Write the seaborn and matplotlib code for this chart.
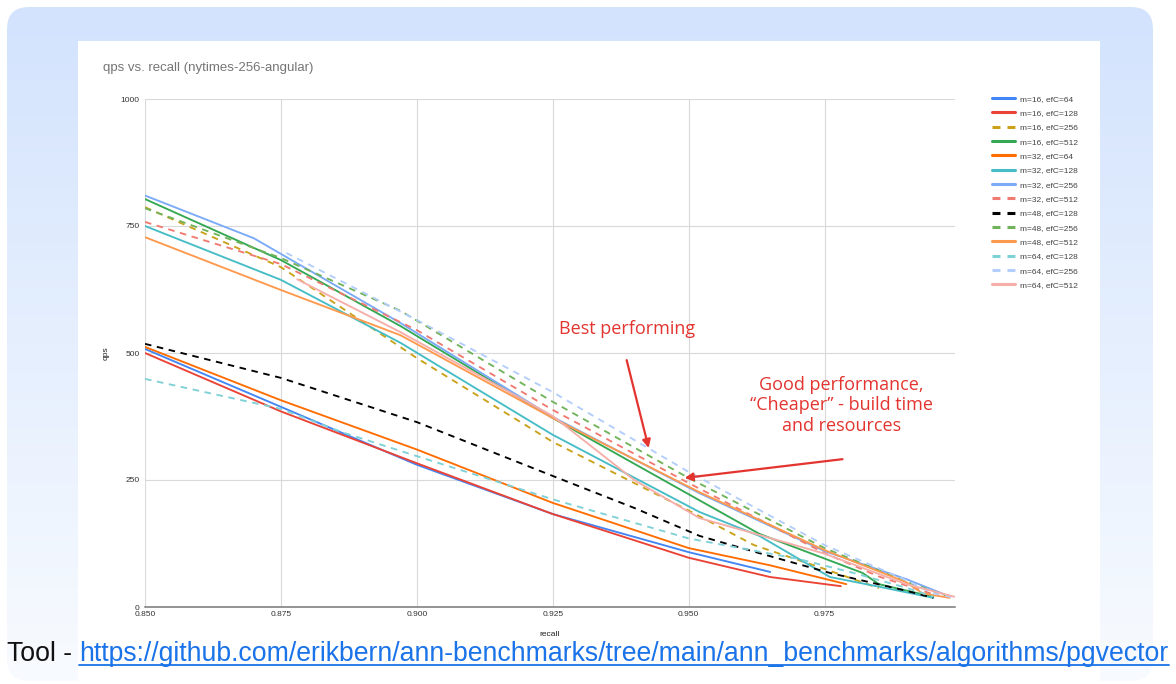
import numpy as np
import pandas as pd
import matplotlib
matplotlib.use("Agg")
import matplotlib.pyplot as plt
import matplotlib.colors as mcolors
from matplotlib.patches import FancyBboxPatch, Rectangle
from matplotlib.lines import Line2D
import seaborn as sns

# ---- benchmark results: recall vs queries per second, one array pair per build config ----
labels = [
    "m=16, efC=64", "m=16, efC=128", "m=16, efC=256", "m=16, efC=512",
    "m=32, efC=64", "m=32, efC=128", "m=32, efC=256", "m=32, efC=512",
    "m=48, efC=128", "m=48, efC=256", "m=48, efC=512",
    "m=64, efC=128", "m=64, efC=256", "m=64, efC=512",
]

recall_m16_ef64 = [0.850, 0.875, 0.900, 0.925, 0.950, 0.965]
qps_m16_ef64 = [508, 394, 280, 183, 108, 69]

recall_m16_ef128 = [0.850, 0.875, 0.900, 0.925, 0.950, 0.965, 0.978]
qps_m16_ef128 = [500, 385, 283, 183, 97, 59, 41]

recall_m16_ef256 = [0.850, 0.875, 0.900, 0.925, 0.950, 0.962, 0.975, 0.985]
qps_m16_ef256 = [787, 669, 490, 325, 190, 122, 75, 37]

recall_m16_ef512 = [0.850, 0.875, 0.897, 0.925, 0.952, 0.963, 0.982, 0.985, 0.995]
qps_m16_ef512 = [803, 683, 553, 372, 210, 144, 67, 45, 20]

recall_m32_ef64 = [0.850, 0.875, 0.900, 0.925, 0.950, 0.965, 0.979]
qps_m32_ef64 = [512, 407, 310, 205, 116, 82, 45]

recall_m32_ef128 = [0.850, 0.875, 0.897, 0.925, 0.952, 0.963, 0.976, 0.985, 0.995]
qps_m32_ef128 = [750, 644, 520, 339, 187, 140, 59, 40, 18]

recall_m32_ef256 = [0.850, 0.870, 0.897, 0.925, 0.952, 0.975, 0.990, 0.997]
qps_m32_ef256 = [810, 726, 559, 374, 224, 110, 55, 25]

recall_m32_ef512 = [0.850, 0.875, 0.900, 0.925, 0.950, 0.975, 0.985, 0.995]
qps_m32_ef512 = [758, 675, 545, 388, 244, 106, 60, 25]

recall_m48_ef128 = [0.850, 0.875, 0.900, 0.925, 0.940, 0.952, 0.963, 0.976, 0.990, 0.995]
qps_m48_ef128 = [518, 451, 364, 258, 195, 140, 106, 67, 32, 18]

recall_m48_ef256 = [0.850, 0.875, 0.897, 0.925, 0.950, 0.975, 0.990, 0.998]
qps_m48_ef256 = [785, 687, 583, 404, 254, 116, 50, 20]

recall_m48_ef512 = [0.850, 0.875, 0.897, 0.925, 0.952, 0.975, 0.990, 0.993, 0.998]
qps_m48_ef512 = [728, 624, 535, 372, 226, 112, 49, 27, 18]

recall_m64_ef128 = [0.850, 0.875, 0.886, 0.900, 0.925, 0.950, 0.970, 0.980, 0.990, 0.995]
qps_m64_ef128 = [449, 390, 345, 297, 212, 135, 95, 68, 38, 20]

recall_m64_ef256 = [0.876, 0.900, 0.925, 0.950, 0.975, 0.990, 0.995, 0.999]
qps_m64_ef256 = [697, 565, 423, 266, 122, 53, 27, 18]

recall_m64_ef512 = [0.878, 0.897, 0.925, 0.940, 0.952, 0.961, 0.975, 0.990, 0.999]
qps_m64_ef512 = [645, 541, 376, 250, 175, 148, 105, 45, 20]

series = [
    (recall_m16_ef64, qps_m16_ef64), (recall_m16_ef128, qps_m16_ef128),
    (recall_m16_ef256, qps_m16_ef256), (recall_m16_ef512, qps_m16_ef512),
    (recall_m32_ef64, qps_m32_ef64), (recall_m32_ef128, qps_m32_ef128),
    (recall_m32_ef256, qps_m32_ef256), (recall_m32_ef512, qps_m32_ef512),
    (recall_m48_ef128, qps_m48_ef128), (recall_m48_ef256, qps_m48_ef256),
    (recall_m48_ef512, qps_m48_ef512), (recall_m64_ef128, qps_m64_ef128),
    (recall_m64_ef256, qps_m64_ef256), (recall_m64_ef512, qps_m64_ef512),
]

colors = [
    "#4285F4", "#EA4335", "#C9A21A", "#34A853",
    "#FF6D01", "#46BDC6", "#7BAAF7", "#F07B72",
    "#000000", "#71B35A", "#FF994D",
    "#7ED1D7", "#B3CEFB", "#F6AEA9",
]
dashed = [False, False, True, False,
          False, False, False, True,
          True, True, False,
          True, True, False]

x_ticks = [0.850, 0.875, 0.900, 0.925, 0.950, 0.975]
y_ticks = [0, 250, 500, 750, 1000]

rows = []
for lab, (rx, qy) in zip(labels, series):
    for a, b in zip(rx, qy):
        rows.append((lab, a, b))
df = pd.DataFrame(rows, columns=["config", "recall", "qps"])

sns.set_theme(style="white")
plt.rcParams["font.family"] = ["Liberation Sans", "DejaVu Sans"]

W, H = 1176, 684
fig = plt.figure(figsize=(W / 100, H / 100), dpi=100)
fig.patch.set_facecolor("white")

# ---- card background: rounded box with a soft blue vertical gradient, white panel on it ----
bg = fig.add_axes([0, 0, 1, 1], zorder=-10)
bg.set_xlim(0, W)
bg.set_ylim(H, 0)
bg.axis("off")
t = np.linspace(0, 1, 256)[:, None, None]
c0 = np.array(mcolors.to_rgb("#D3E3FD"))[None, None, :]
c1 = np.array(mcolors.to_rgb("#F8FBFF"))[None, None, :]
grad = c0 * (1 - t) + c1 * t
grad = np.repeat(grad, 2, axis=1)
im = bg.imshow(grad, extent=(7, 1153, 681, 7), aspect="auto", interpolation="bilinear")
card = FancyBboxPatch((7, 7), 1146, 674, boxstyle="round,pad=0,rounding_size=22",
                      facecolor="none", edgecolor="none", transform=bg.transData)
bg.add_patch(card)
im.set_clip_path(card)
bg.add_patch(Rectangle((78, 41), 1100 - 78, 681 - 41, facecolor="white", edgecolor="none"))
bg.set_xlim(0, W)
bg.set_ylim(H, 0)

# ---- chart ----
ax = fig.add_axes([145 / W, 1 - 607 / H, 810 / W, 508 / H])
ax.set_facecolor("none")

palette = dict(zip(labels, colors))
dash_map = {lab: ((3.5, 3.0) if d else "") for lab, d in zip(labels, dashed)}
sns.lineplot(data=df, x="recall", y="qps", hue="config", style="config",
             hue_order=labels, style_order=labels, palette=palette, dashes=dash_map,
             sort=False, estimator=None, legend=False, lw=1.35, ax=ax)

ax.set_xlim(0.85, 0.999)
ax.set_ylim(0, 1000)
ax.set_xticks(x_ticks)
ax.set_xticklabels([f"{v:.3f}" for v in x_ticks])
ax.set_yticks(y_ticks)
ax.set_yticklabels([str(v) for v in y_ticks])
ax.grid(True, color="#D9D9D9", lw=0.8)
ax.set_axisbelow(True)
for s in ["top", "right", "left"]:
    ax.spines[s].set_visible(False)
ax.spines["bottom"].set_color("#777777")
ax.spines["bottom"].set_linewidth(1.1)
ax.tick_params(axis="both", length=0, labelsize=6, labelcolor="#333333")
ax.tick_params(axis="x", pad=3)
ax.tick_params(axis="y", pad=4)
ax.set_xlabel("recall", fontsize=6, color="#222222", labelpad=9)
ax.set_ylabel("qps", fontsize=6, color="#222222", labelpad=8)

fig.text(103 / W, 1 - 68 / H, "qps vs. recall (nytimes-256-angular)",
         fontsize=9.5, color="#757575", ha="left", va="center")

# legend with custom handles
handles = []
for c, d in zip(colors, dashed):
    if d:
        handles.append(Line2D([0], [0], color=c, lw=2.2, dashes=(2.6, 2.3)))
    else:
        handles.append(Line2D([0], [0], color=c, lw=2.2))
fig.legend(handles, labels, loc="upper left", bbox_to_anchor=(992 / W, 1 - 95 / H),
           frameon=False, fontsize=6, handlelength=2.75, handletextpad=0.55,
           labelspacing=0.78, borderaxespad=0, borderpad=0, labelcolor="#444444")

# ---- annotations ----
red = "#E3342F"
note_font = ["Open Sans", "DejaVu Sans"]
ax.text(0.9386, 547, "Best performing", color=red, fontsize=13, ha="center",
        va="center", family=note_font)
ax.text(0.9781, 397, "Good performance,\n\u201cCheaper\u201d - build time\nand resources",
        color=red, fontsize=13, ha="center", va="center", linespacing=1.2,
        family=note_font)
arrow = dict(arrowstyle="-|>", color=red, lw=1.6, mutation_scale=12,
             shrinkA=0, shrinkB=0)
ax.annotate("", xy=(0.94265, 313), xytext=(0.9386, 486), arrowprops=arrow)
ax.annotate("", xy=(0.94926, 254), xytext=(0.97831, 291), arrowprops=arrow)

# ---- footer with source link, sized to span the card ----
url = "https://github.com/erikbern/ann-benchmarks/tree/main/ann_benchmarks/algorithms/pgvector"
renderer = fig.canvas.get_renderer()
fs = 16.0
for _ in range(3):
    probe = fig.text(0, 0, "Tool - " + url, fontsize=fs)
    total = probe.get_window_extent(renderer).width
    probe.remove()
    fs = fs * 1165 / total

base_y = 1 - 661 / H
t1 = fig.text(7 / W, base_y, "Tool - ", fontsize=fs, color="#111111",
              ha="left", va="baseline")
w1 = t1.get_window_extent(renderer).width
t2 = fig.text((7 + w1) / W, base_y, url, fontsize=fs, color="#1A73E8",
              ha="left", va="baseline")
bb = t2.get_window_extent(renderer)
uy = 1 - 665 / H
fig.add_artist(Line2D([bb.x0 / W, bb.x1 / W], [uy, uy], color="#1A73E8", lw=1.3,
                      transform=fig.transFigure))

fig.savefig("out.png", dpi=100)
